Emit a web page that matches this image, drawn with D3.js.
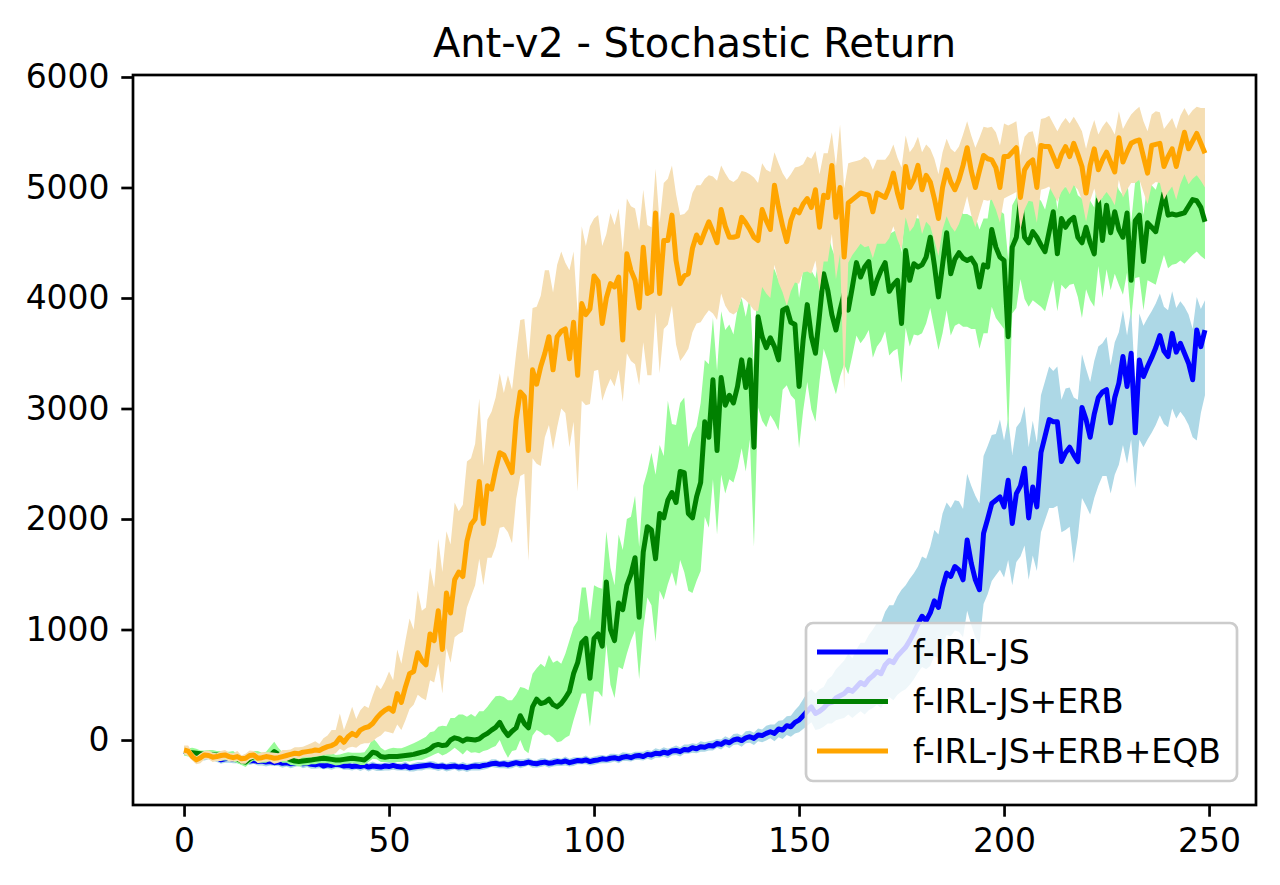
<!DOCTYPE html>
<html>
<head>
<meta charset="utf-8">
<script src="https://cdn.jsdelivr.net/npm/d3@7"></script>
<style>
  body { margin: 0; background: #fff; }
  text { font-family: "DejaVu Sans", sans-serif; }
</style>
</head>
<body>
<div id="chart"></div>
<script>
// Values: one point per iteration (0..249)

// f-IRL-JS : mean return, band above and below the mean
var blueMean = [
  -105,-110,-120,-130,-140,-150,-145,-150,-160,-180,
  -170,-165,-175,-180,-185,-180,-190,-185,-195,-190,
  -200,-195,-205,-200,-210,-205,-215,-210,-205,-215,
  -210,-220,-225,-215,-235,-225,-230,-220,-225,-235,
  -230,-240,-235,-240,-230,-245,-235,-240,-245,-235,
  -240,-230,-240,-245,-235,-250,-245,-240,-235,-230,
  -225,-235,-240,-235,-245,-240,-235,-245,-240,-250,
  -240,-235,-240,-230,-225,-215,-210,-220,-215,-225,
  -215,-205,-215,-210,-200,-210,-215,-205,-200,-210,
  -205,-195,-200,-190,-205,-195,-185,-190,-180,-195,
  -185,-180,-170,-175,-165,-160,-170,-155,-150,-160,
  -145,-140,-150,-130,-135,-120,-125,-110,-120,-100,
  -95,-105,-85,-90,-70,-80,-60,-65,-50,-55,
  -30,-40,-15,-25,0,10,-5,20,30,15,
  45,40,60,75,60,100,90,130,120,160,
  180,220,260,300,240,260,290,330,340,380,
  400,420,460,440,480,520,500,550,580,620,
  600,680,720,700,760,800,840,900,970,1050,
  1120,1080,1150,1260,1200,1380,1510,1480,1570,1540,
  1450,1810,1600,1450,1360,1870,2000,2140,2170,2200,
  2110,2350,1960,2230,2300,2460,2010,2290,2110,2600,
  2750,2900,2880,2880,2520,2600,2650,2580,2520,3010,
  2900,2740,2950,3100,3150,3170,2870,3100,3230,3470,
  3200,3500,2780,3440,3290,3380,3460,3550,3660,3520,
  3470,3680,3510,3590,3500,3410,3260,3710,3560,3710
];
var blueUp = [
  30,25,30,35,30,25,30,35,30,25,
  30,35,30,25,30,35,30,40,30,35,
  30,25,35,30,40,30,35,30,25,35,
  30,35,40,30,35,30,25,35,40,30,
  35,30,40,35,30,35,40,30,35,30,
  40,35,30,35,40,30,35,40,35,30,
  35,40,30,35,30,40,35,30,40,35,
  30,35,40,35,30,40,35,30,35,40,
  35,30,40,35,40,30,35,40,35,30,
  40,35,30,40,35,40,30,35,40,35,
  35,40,35,30,40,35,40,45,35,40,
  40,35,45,40,35,45,40,45,40,35,
  45,40,45,50,40,45,50,45,40,50,
  40,45,50,40,55,50,45,60,55,50,
  60,55,70,65,80,75,90,85,100,110,
  130,150,170,160,180,200,190,220,240,260,
  280,300,320,300,340,360,380,400,420,440,
  460,480,500,520,540,560,560,560,540,520,
  540,560,600,640,660,670,640,620,600,620,
  640,600,700,760,780,700,660,620,600,700,
  600,560,620,600,580,560,640,600,580,520,
  500,480,460,500,560,580,540,520,560,480,
  460,500,480,460,440,480,520,500,460,420,
  460,400,440,420,460,440,420,400,380,400,
  420,380,400,380,420,440,460,300,340,270
];
var blueDown = [
  35,30,35,30,40,35,30,35,40,35,
  35,40,35,30,35,40,35,30,35,40,
  40,35,30,35,40,35,40,35,30,40,
  35,40,35,40,30,35,40,35,30,35,
  40,35,30,40,35,40,35,40,35,40,
  35,40,35,30,40,35,40,35,40,35,
  40,35,40,35,40,35,30,40,35,40,
  35,40,35,40,35,30,40,35,40,35,
  40,35,40,35,30,40,35,40,35,40,
  35,40,35,40,35,40,35,30,40,35,
  40,35,40,35,40,35,40,35,40,35,
  35,40,35,40,45,40,35,40,45,40,
  40,45,40,35,45,40,45,40,45,40,
  40,45,40,50,45,50,55,50,55,60,
  55,60,65,60,70,75,80,85,90,100,
  110,120,130,140,150,160,170,180,190,200,
  210,220,230,240,250,260,270,280,290,300,
  310,320,330,340,350,360,380,400,420,440,
  460,440,480,500,460,520,560,540,580,560,
  520,640,560,520,500,640,680,700,680,660,
  640,720,560,620,640,700,560,620,580,720,
  760,800,780,760,640,700,720,980,680,820,
  780,700,760,800,760,780,640,700,740,800,
  700,780,500,720,640,660,680,700,720,660,
  640,680,600,620,580,560,520,1000,600,590
];

// f-IRL-JS+ERB
var greenMean = [
  -105,-110,-115,-120,-125,-130,-130,-135,-135,-140,
  -145,-150,-150,-170,-190,-200,-170,-150,-160,-165,
  -165,-140,-105,-130,-160,-165,-180,-190,-195,-190,
  -185,-180,-175,-170,-165,-170,-175,-180,-180,-175,
  -170,-165,-170,-175,-180,-150,-110,-120,-150,-155,
  -150,-150,-150,-145,-140,-135,-130,-120,-110,-100,
  -80,-50,-40,-50,-45,0,20,10,-10,10,
  5,0,10,40,60,90,115,160,90,40,
  80,110,220,150,110,300,370,330,340,370,
  320,300,330,380,440,600,700,880,920,560,
  920,960,850,1430,1000,900,1240,1180,1400,1500,
  1650,1110,1700,1930,1900,1640,2050,2010,2170,2240,
  2150,2430,2420,2050,2010,2200,2330,2880,2740,3260,
  2620,3280,3030,3120,3050,3200,3440,3190,3440,2650,
  3830,3650,3550,3640,3560,3440,3890,3910,3780,3760,
  3200,3620,3940,3650,3500,3850,4220,4070,3850,3710,
  3890,4040,3890,4100,4320,4190,4280,4330,4040,4160,
  4250,4320,4060,4120,4160,3770,4430,4160,4310,4280,
  4300,4370,4550,4300,4010,4300,4590,4220,4350,4410,
  4360,4340,4360,4300,4100,4300,4280,4620,4460,4370,
  4340,3650,4460,4550,4890,4550,4500,4600,4550,4480,
  4420,4600,4780,4400,4720,4640,4700,4730,4550,4500,
  4640,4500,4400,4890,4520,4840,4590,4780,4620,4550,
  4770,4160,4700,4750,4330,4680,4640,4600,4780,4950,
  4750,4760,4750,4760,4770,4830,4890,4880,4820,4690
];
var greenUp = [
  40,35,45,40,30,35,40,45,35,40,
  40,45,50,40,35,40,45,50,60,50,
  60,80,90,60,50,40,45,50,40,45,
  50,45,40,50,45,50,55,45,50,55,
  60,50,55,60,70,90,130,100,80,60,
  70,80,75,70,80,90,100,110,120,130,
  150,130,160,180,170,200,180,220,240,200,
  230,210,250,220,240,260,280,240,300,320,
  280,300,260,320,340,300,280,360,320,400,
  380,420,360,400,460,420,380,500,460,520,
  480,420,520,460,560,500,620,540,600,520,
  560,640,600,500,700,760,620,560,900,620,
  700,620,680,600,760,640,720,560,660,560,
  720,600,680,640,620,700,560,640,580,720,
  560,600,680,620,700,720,580,560,640,620,
  800,640,520,600,680,560,480,520,600,640,
  560,520,600,480,420,500,460,440,520,480,
  460,420,520,480,460,640,400,460,420,440,
  420,400,380,420,560,440,380,460,420,400,
  400,420,380,440,520,420,440,360,400,420,
  420,700,380,360,280,360,380,340,360,400,
  380,360,320,400,340,360,340,320,380,400,
  360,380,420,300,380,320,360,300,360,380,
  320,520,360,340,420,360,380,380,320,280,
  340,360,360,380,360,340,300,320,360,420
];
var greenDown = [
  35,40,35,40,45,35,40,35,40,45,
  40,35,45,40,35,45,40,35,45,40,
  40,45,40,50,45,40,45,40,45,40,
  45,40,45,40,45,40,45,50,45,40,
  45,40,45,50,45,50,60,55,50,45,
  50,55,50,55,50,60,55,60,70,65,
  70,80,75,90,80,100,90,110,120,100,
  120,110,130,140,150,160,170,160,180,200,
  180,200,220,240,230,260,280,260,300,320,
  300,320,340,360,400,420,400,460,500,440,
  480,520,460,560,500,520,580,540,620,600,
  660,560,700,640,680,750,700,740,760,720,
  760,800,900,700,680,760,800,860,820,900,
  760,880,800,760,720,740,800,760,720,900,
  820,760,720,700,680,640,720,700,660,680,
  560,640,700,660,620,600,680,640,600,580,
  600,640,580,620,660,600,640,620,580,600,
  640,620,580,600,620,540,700,600,640,620,
  620,600,640,580,480,620,700,560,600,640,
  620,600,640,580,560,620,600,700,640,600,
  620,900,600,640,720,560,580,620,600,560,
  540,580,620,520,600,560,580,600,540,680,
  560,520,480,600,520,580,520,560,500,520,
  540,360,520,560,440,520,500,480,520,560,
  480,460,440,420,460,480,500,460,440,340
];

// f-IRL-JS+ERB+EQB
var orangeMean = [
  -90,-100,-150,-180,-160,-135,-140,-155,-150,-140,
  -135,-150,-160,-150,-170,-165,-140,-135,-165,-160,
  -150,-155,-165,-160,-150,-140,-130,-120,-125,-110,
  -105,-100,-90,-95,-75,-60,-50,-30,20,-20,
  30,60,40,90,110,120,150,200,240,270,
  290,260,420,340,480,600,620,790,720,680,
  960,900,1170,820,1330,1150,1450,1520,1480,1800,
  1950,2000,2340,1960,2300,2270,2450,2600,2580,2500,
  2420,2900,3150,3110,2620,3350,3220,3380,3500,3650,
  3350,3650,3700,3720,3450,3780,3300,3950,3850,3900,
  4200,4150,3770,4000,4130,4100,4190,3620,4400,4250,
  4160,3910,4460,4040,4060,4770,4040,4520,4520,4750,
  4340,4130,4200,4220,4450,4570,4500,4600,4690,4600,
  4500,4800,4650,4550,4550,4560,4730,4680,4620,4550,
  4520,4800,4700,4620,5020,4820,4650,4510,4700,4800,
  4770,4850,4900,4820,4980,4640,4930,4910,5200,4730,
  5000,4370,4860,4890,4920,4950,4940,4930,4780,4950,
  4930,4910,5000,5130,4950,4820,5190,5000,5070,5200,
  4980,5110,5050,4900,4720,5000,5160,5050,4980,5070,
  5200,5360,5150,5000,5150,5290,5260,5250,5180,5000,
  5280,5280,5320,5360,4910,5160,5220,5250,5000,5380,
  5370,5370,5280,5190,5300,5370,5280,5400,5300,5190,
  4950,5200,5350,5160,5250,5320,5230,5140,5450,5230,
  5320,5400,5420,5430,5280,5130,5380,5390,5400,5190,
  5280,5350,5190,5350,5500,5350,5420,5490,5400,5310
];
var orangeUp = [
  40,50,40,30,40,35,45,40,30,40,
  45,35,40,50,30,40,45,35,40,50,
  40,45,50,40,60,50,45,55,60,50,
  60,70,80,60,90,100,140,120,220,110,
  160,240,150,180,200,170,250,300,220,260,
  330,280,400,350,420,500,380,560,450,520,
  600,480,650,700,560,620,700,550,650,720,
  600,680,750,520,600,700,650,720,560,800,
  750,600,650,700,820,560,700,640,750,600,
  700,650,720,600,800,640,560,700,620,750,
  520,600,700,580,640,560,620,800,500,580,
  650,700,520,620,580,400,640,520,560,450,
  600,620,560,580,500,450,520,480,420,500,
  560,400,480,520,500,520,420,460,500,540,
  520,420,460,520,300,400,480,560,420,380,
  420,360,380,440,350,480,380,400,300,460,
  570,620,360,340,320,300,340,320,380,300,
  320,340,300,260,320,360,280,320,300,260,
  340,280,300,360,400,320,280,300,340,300,
  280,240,320,360,300,260,280,300,320,380,
  300,280,260,240,380,300,280,260,360,240,
  260,280,300,320,280,260,300,240,280,320,
  400,300,260,320,300,280,320,340,240,300,
  280,260,280,300,320,380,280,300,280,340,
  300,280,340,300,220,300,280,240,320,410
];
var orangeDown = [
  40,45,35,40,50,40,35,45,40,50,
  40,45,35,40,45,50,40,35,45,40,
  45,40,50,45,40,50,45,40,50,45,
  50,55,60,50,60,70,80,90,100,80,
  100,120,110,130,140,150,160,180,200,190,
  220,200,280,250,300,320,300,380,340,320,
  420,380,480,400,500,450,520,560,500,600,
  650,600,700,560,650,620,700,680,650,620,
  640,720,760,700,1000,800,720,900,760,800,
  720,820,700,760,800,900,1050,880,820,860,
  860,800,700,820,860,900,840,560,900,820,
  760,700,860,740,760,900,720,800,760,820,
  760,700,720,680,760,800,720,760,800,740,
  700,760,720,680,700,680,720,700,680,660,
  640,700,660,620,720,680,600,580,640,660,
  640,620,660,600,640,580,600,580,620,560,
  600,1200,540,500,480,460,480,460,420,460,
  440,420,460,480,420,380,460,400,420,440,
  400,420,400,380,340,380,420,400,380,400,
  420,440,400,360,380,400,380,360,380,320,
  380,360,380,400,300,360,340,380,320,400,
  380,360,340,320,340,360,340,380,320,300,
  260,320,360,300,340,360,320,300,380,320,
  340,360,380,360,320,280,360,340,360,300,
  320,340,300,320,380,320,340,380,340,310
];

// tick labels
var xTicks = [0, 50, 100, 150, 200, 250];
var yTicks = [0, 1000, 2000, 3000, 4000, 5000, 6000];

// drawing order is also the legend order
var series = [
  { name: "f-IRL-JS", mean: blueMean, up: blueUp, down: blueDown, line: "blue", band: "lightblue" },
  { name: "f-IRL-JS+ERB", mean: greenMean, up: greenUp, down: greenDown, line: "green", band: "palegreen" },
  { name: "f-IRL-JS+ERB+EQB", mean: orangeMean, up: orangeUp, down: orangeDown, line: "orange", band: "wheat" }
];

// svg size and the axes box
var svgWidth = 1280;
var svgHeight = 885;
var box = { left: 133, right: 1256, top: 75, bottom: 805 };

var svg = d3.select("#chart")
  .append("svg")
  .attr("width", svgWidth)
  .attr("height", svgHeight);

// axis limits as in the reference (data range plus 5% margin)
var xScale = d3.scaleLinear()
  .domain([-12.45, 261.45])
  .range([box.left, box.right]);

var yScale = d3.scaleLinear()
  .domain([-588, 6018])
  .range([box.bottom, box.top]);

var plot = svg.append("g");

series.forEach(function(s) {
  var band = d3.area()
    .x(function(d, i) { return xScale(i); })
    .y0(function(d, i) { return yScale(d - s.down[i]); })
    .y1(function(d, i) { return yScale(d + s.up[i]); });

  var line = d3.line()
    .x(function(d, i) { return xScale(i); })
    .y(function(d) { return yScale(d); });

  plot.append("path")
    .datum(s.mean)
    .attr("d", band)
    .attr("fill", s.band)
    .attr("stroke", "none");

  plot.append("path")
    .datum(s.mean)
    .attr("d", line)
    .attr("fill", "none")
    .attr("stroke", s.line)
    .attr("stroke-width", 5)
    .attr("stroke-linejoin", "round");
});

// axes
var bottomAxis = d3.axisBottom(xScale)
  .tickValues(xTicks)
  .tickSize(11.7)
  .tickPadding(11.7)
  .tickSizeOuter(0);

var leftAxis = d3.axisLeft(yScale)
  .tickValues(yTicks)
  .tickFormat(d3.format("d"))
  .tickSize(11.7)
  .tickPadding(11.7)
  .tickSizeOuter(0);

var xAxis = svg.append("g")
  .attr("transform", `translate(0, ${box.bottom})`)
  .call(bottomAxis);

var yAxis = svg.append("g")
  .attr("transform", `translate(${box.left}, 0)`)
  .call(leftAxis);

[xAxis, yAxis].forEach(function(ax) {
  ax.select(".domain").remove();
  ax.selectAll(".tick line").attr("stroke", "#000").attr("stroke-width", 2.7);
  ax.selectAll(".tick text")
    .attr("fill", "#000")
    .style("font-family", "'DejaVu Sans', sans-serif")
    .style("font-size", "33px");
});

// frame
svg.append("rect")
  .attr("x", box.left)
  .attr("y", box.top)
  .attr("width", box.right - box.left)
  .attr("height", box.bottom - box.top)
  .attr("fill", "none")
  .attr("stroke", "#000")
  .attr("stroke-width", 2.7);

// title
svg.append("text")
  .attr("x", (box.left + box.right) / 2)
  .attr("y", 57)
  .attr("text-anchor", "middle")
  .attr("font-size", "40px")
  .attr("fill", "#000")
  .text("Ant-v2 - Stochastic Return");

// legend, lower right
var legend = svg.append("g");

legend.append("rect")
  .attr("x", 806)
  .attr("y", 623)
  .attr("width", 431)
  .attr("height", 158)
  .attr("rx", 7)
  .attr("fill", "#fff")
  .attr("fill-opacity", 0.8)
  .attr("stroke", "#cccccc")
  .attr("stroke-width", 2.7);

series.forEach(function(s, i) {
  var rowY = 652 + i * 49.5;
  legend.append("line")
    .attr("x1", 817)
    .attr("x2", 888)
    .attr("y1", rowY)
    .attr("y2", rowY)
    .attr("stroke", s.line)
    .attr("stroke-width", 5);
  legend.append("text")
    .attr("x", 913)
    .attr("y", rowY)
    .attr("dy", "0.36em")
    .attr("font-size", "33px")
    .attr("fill", "#000")
    .text(s.name);
});
</script>
</body>
</html>
